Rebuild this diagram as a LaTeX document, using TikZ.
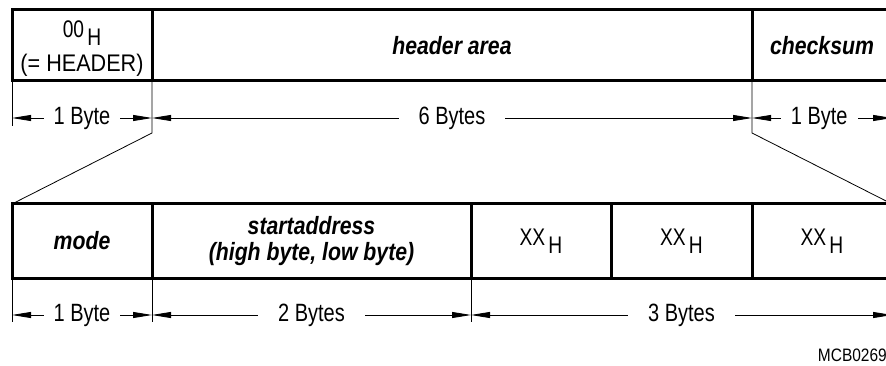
\documentclass[tikz,border=0pt]{standalone}
\usepackage{fontspec}
\setmainfont{Liberation Sans}
\usetikzlibrary{positioning}
\usetikzlibrary{arrows.meta}

\newcommand{\nrw}[1]{\scalebox{0.8}[1]{#1}}
\newcommand{\hexval}[1]{\nrw{#1\,\raisebox{-8pt}{H}}}

\tikzset{
    field/.style={draw, line width=3pt, outer sep=0pt, inner sep=0pt, anchor=north west},
    fname/.style={font=\fontsize{25}{26}\selectfont\bfseries\itshape, align=center},
    fval/.style={font=\fontsize{24}{28}\selectfont, align=center},
    extline/.style={line width=0.8pt},
    dimline/.style={line width=0.8pt, {Triangle[length=19pt,width=6pt]}-{Triangle[length=19pt,width=6pt]}},
    dimtext/.style={fill=white, inner ysep=2pt, font=\fontsize{25}{28}\selectfont},
}

\begin{document}
\begin{tikzpicture}[x=1pt, y=-1pt]
    \useasboundingbox (0,0) rectangle (886,366);

    % header telegram
    \node[field, minimum width=140pt, minimum height=71pt] (hdr) at (12,10) {};
    \node[field, minimum width=600pt, minimum height=71pt] (area) at (hdr.north east) {};
    \node[field, minimum width=140pt, minimum height=71pt] (chk) at (area.north east) {};

    \node[fval, font=\fontsize{24}{34}\selectfont, yshift=-3pt] at (hdr.center)
        {\hexval{00}\\\scalebox{0.9}[1]{(= HEADER)}};
    \node[fname] at (area.center) {\scalebox{0.85}[1]{header area}};
    \node[fname] at (chk.center) {\scalebox{0.85}[1]{checksum}};

    % header area in detail
    \node[field, minimum width=140pt, minimum height=74pt] (mode) at (12,204) {};
    \node[field, minimum width=319pt, minimum height=74pt] (addr) at (mode.north east) {};
    \node[field, minimum width=140pt, minimum height=74pt] (xa) at (addr.north east) {};
    \node[field, minimum width=141pt, minimum height=74pt] (xb) at (xa.north east) {};
    \node[field, minimum width=140pt, minimum height=74pt] (xc) at (xb.north east) {};

    \node[fname] at (mode.center) {\scalebox{0.85}[1]{mode}};
    \node[fname] at (addr.center) {\scalebox{0.85}[1]{startaddress}\\\scalebox{0.85}[1]{(high byte, low byte)}};
    \node[fval] at (xa.center) {\hexval{XX}};
    \node[fval] at (xb.center) {\hexval{XX}};
    \node[fval] at (xc.center) {\hexval{XX}};

    % extension lines, upper
    \coordinate (u1) at (12,126);
    \coordinate (u2) at (152,133);
    \coordinate (u3) at (752,133);
    \draw[extline] (hdr.south west) -- (u1);
    \draw[extline] (hdr.south east) -- (u2) -- (mode.north west);
    \draw[extline] (chk.south west) -- (u3) -- (xc.north east);

    % extension lines, lower
    \coordinate (l1) at (12,322);
    \coordinate (l2) at (152,322);
    \coordinate (l3) at (471,322);
    \draw[extline] (mode.south west) -- (l1);
    \draw[extline] (mode.south east) -- (l2);
    \draw[extline] (addr.south east) -- (l3);

    % dimensions
    \coordinate (ua) at (12,118);
    \coordinate (ub) at (152,118);
    \coordinate (uc) at (752,118);
    \coordinate (ud) at (892,118);
    \draw[dimline] (ua) -- (ub) node[midway, dimtext, inner xsep=10pt] {\nrw{1 Byte}};
    \draw[dimline] (ub) -- (uc) node[midway, dimtext, inner xsep=20pt] {\nrw{6 Bytes}};
    \draw[dimline] (uc) -- (ud) node[pos=0.48, dimtext, inner xsep=10pt] {\nrw{1 Byte}};

    \coordinate (la) at (12,315);
    \coordinate (lb) at (152,315);
    \coordinate (lc) at (471,315);
    \coordinate (ld) at (892,315);
    \draw[dimline] (la) -- (lb) node[midway, dimtext, inner xsep=10pt] {\nrw{1 Byte}};
    \draw[dimline] (lb) -- (lc) node[midway, dimtext, inner xsep=20pt] {\nrw{2 Bytes}};
    \draw[dimline] (lc) -- (ld) node[midway, dimtext, inner xsep=20pt] {\nrw{3 Bytes}};

    \node[anchor=east, inner sep=0pt, font=\fontsize{18}{20}\selectfont] (fig) at (887,355) {\scalebox{0.86}[1]{MCB0269}};
\end{tikzpicture}
\end{document}
